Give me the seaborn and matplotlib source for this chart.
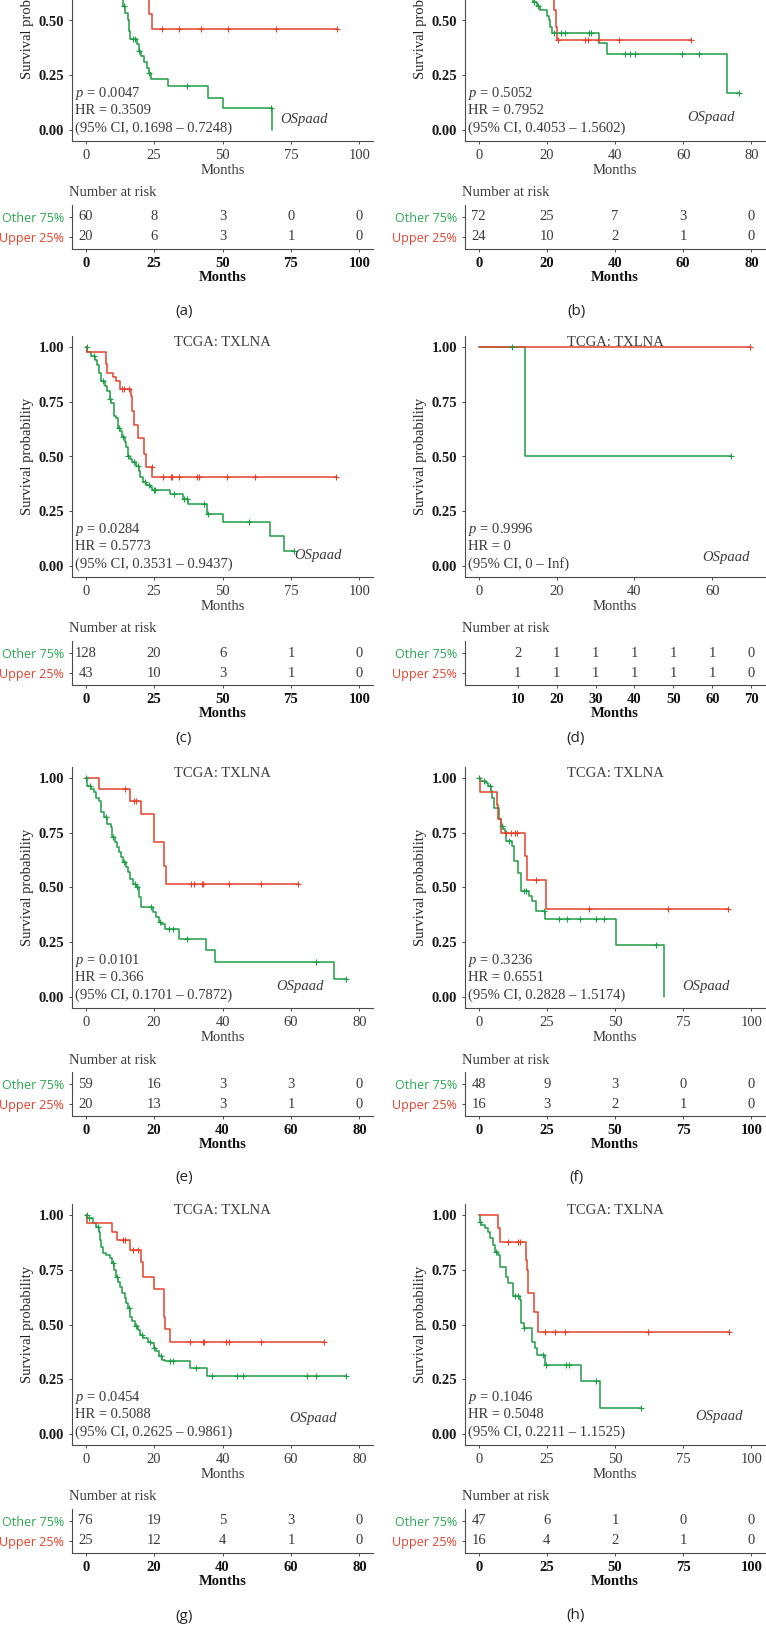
import numpy as np
import matplotlib
matplotlib.use("Agg")
import matplotlib.pyplot as plt
import seaborn as sns

# ---- panel (a) ----
A_OTHER_T = [0.5, 2, 3, 4, 5, 6, 7, 8, 9, 10, 11, 12, 13, 13.5, 14.3, 15.4, 15.8, 16.2,
             18.7, 19.5, 20.2, 21.3, 22.5, 23, 24, 30, 44.6, 50.2, 68]
A_OTHER_S = [0.983, 0.967, 0.95, 0.933, 0.917, 0.9, 0.867, 0.833, 0.8, 0.75, 0.7, 0.65, 0.6,
             0.567, 0.533, 0.5, 0.45, 0.417, 0.393, 0.36, 0.34, 0.31, 0.285, 0.26, 0.231,
             0.2, 0.147, 0.1, 0.0]
A_OTHER_CENS = [14, 17.2, 17.9, 19.5, 23.3, 37, 67.6]
A_UPPER_T = [5, 9, 13, 16, 19, 21, 22.3, 23.2, 24.4]
A_UPPER_S = [0.95, 0.9, 0.85, 0.8, 0.74, 0.66, 0.6, 0.53, 0.46]
A_UPPER_CENS = [28, 34, 42, 52, 69.5, 92]
A_RISK_OTHER = [60, 8, 3, 0, 0]
A_RISK_UPPER = [20, 6, 3, 1, 0]
A_STATS = ["0.0047", "0.3509", "0.1698 – 0.7248"]

# ---- panel (b) ----
B_OTHER_T = [1, 2, 3, 4, 5, 6, 7, 8, 9, 10, 11, 12, 13, 14, 15, 15.5, 16, 17, 18, 20,
             20.5, 21, 21.5, 35.3, 37.6, 72.8]
B_OTHER_S = [0.986, 0.972, 0.958, 0.944, 0.93, 0.9, 0.87, 0.85, 0.82, 0.79, 0.76, 0.73,
             0.7, 0.67, 0.64, 0.6, 0.585, 0.565, 0.55, 0.52, 0.5, 0.47, 0.445, 0.397,
             0.345, 0.17]
B_OTHER_CENS = [16.3, 17.3, 22, 24.3, 25.3, 32.3, 33, 42.8, 44.3, 46, 59.7, 64.6, 76.5]
B_UPPER_T = [3, 8, 12, 15, 17, 19, 20, 21.5, 22, 22.7, 23]
B_UPPER_S = [0.958, 0.917, 0.875, 0.833, 0.79, 0.74, 0.69, 0.64, 0.55, 0.47, 0.41]
B_UPPER_CENS = [23.3, 31.1, 32.1, 35, 41.1, 62.2]
B_RISK_OTHER = [72, 25, 7, 3, 0]
B_RISK_UPPER = [24, 10, 2, 1, 0]
B_STATS = ["0.5052", "0.7952", "0.4053 – 1.5602"]

# ---- panel (c) ----
C_OTHER_T = [0.5, 2.1, 3.3, 4.2, 4.8, 5.7, 7.0, 7.8, 8.8, 9.4, 10.3, 11.0, 11.8, 12.7, 13.4,
             14.3, 14.9, 15.3, 16.1, 17.1, 18.3, 19.4, 20.0, 21.0, 22.2, 23.4, 24.4, 30.8,
             35.4, 37.5, 44.4, 50.1, 67.4, 72.5]
C_OTHER_S = [0.977, 0.958, 0.942, 0.92, 0.882, 0.844, 0.821, 0.799, 0.761, 0.746, 0.685,
             0.678, 0.632, 0.617, 0.587, 0.564, 0.542, 0.504, 0.489, 0.474, 0.458, 0.436,
             0.405, 0.383, 0.368, 0.36, 0.345, 0.33, 0.307, 0.284, 0.239, 0.201, 0.136, 0.07]
C_OTHER_CENS = [0.3, 3, 6.2, 9, 12, 13.8, 15.6, 17.5, 19, 21.5, 23, 24.8, 25.5, 32.2, 35.8,
                37, 43.2, 44.8, 59.8, 76.2]
C_UPPER_T = [0.5, 7.3, 7.9, 10, 11.2, 12.5, 16.5, 17.1, 17.7, 19.2, 21.2, 22.2, 24.3]
C_UPPER_S = [0.977, 0.924, 0.882, 0.862, 0.844, 0.81, 0.776, 0.708, 0.644, 0.584, 0.511,
             0.45, 0.405]
C_UPPER_CENS = [13.1, 14, 15.9, 24.1, 28.1, 31, 31.7, 34.2, 40.8, 41.5, 51.5, 61.9, 91.6]
C_RISK_OTHER = [128, 20, 6, 1, 0]
C_RISK_UPPER = [43, 10, 3, 1, 0]
C_STATS = ["0.0284", "0.5773", "0.3531 – 0.9437"]

# ---- panel (d) ----
D_OTHER_T = [12]
D_OTHER_S = [0.5]
D_OTHER_CENS = [8.5, 64.7]
D_UPPER_T = []
D_UPPER_S = []
D_UPPER_CENS = [69.7]
D_RISK_OTHER = [2, 1, 1, 1, 1, 1, 0]
D_RISK_UPPER = [1, 1, 1, 1, 1, 1, 0]
D_STATS = ["0.9996", "0", "0 – Inf"]

# ---- panel (e) ----
E_OTHER_T = [0.4, 1.7, 2.3, 3.1, 3.9, 4.4, 5.3, 6.2, 7.3, 7.8, 8.5, 9.1, 9.7, 10.4, 10.9,
             11.7, 12.4, 13.0, 13.8, 14.8, 15.6, 16.3, 19.7, 20.6, 21.4, 22.1, 23.1, 27.4,
             35.2, 37.7, 72.7]
E_OTHER_S = [0.965, 0.95, 0.935, 0.909, 0.897, 0.843, 0.821, 0.79, 0.775, 0.73, 0.707,
             0.684, 0.661, 0.638, 0.616, 0.593, 0.57, 0.54, 0.517, 0.502, 0.456, 0.41,
             0.388, 0.365, 0.342, 0.334, 0.312, 0.266, 0.213, 0.16, 0.084]
E_OTHER_CENS = [0.2, 1.2, 5.8, 8.0, 11.2, 14.3, 15.0, 19.0, 21.8, 24.3, 25.5, 29.7, 67.2, 76.1]
E_UPPER_T = [3.9, 13.1, 16.3, 20.1, 22.9, 23.4]
E_UPPER_S = [0.95, 0.897, 0.836, 0.707, 0.6, 0.517]
E_UPPER_CENS = [11.4, 14.1, 14.8, 30.9, 31.6, 34, 34.2, 42, 51.3, 62]
E_RISK_OTHER = [59, 16, 3, 3, 0]
E_RISK_UPPER = [20, 13, 3, 1, 0]
E_STATS = ["0.0101", "0.366", "0.1701 – 0.7872"]

# ---- panel (f) ----
F_OTHER_T = [0.4, 2.6, 3.5, 4.4, 5.0, 5.6, 7.5, 8.1, 8.9, 9.7, 10.1, 12.1, 13.0, 14.5, 15.4,
             18.5, 19.7, 20.9, 24.3, 50.2, 68.0]
F_OTHER_S = [0.985, 0.977, 0.962, 0.939, 0.909, 0.864, 0.811, 0.78, 0.765, 0.75, 0.712,
             0.689, 0.621, 0.568, 0.485, 0.462, 0.439, 0.394, 0.356, 0.238, 0.0]
F_OTHER_CENS = [0.3, 2.0, 4.0, 8.6, 11.0, 16.5, 17.5, 24.0, 29.5, 32.5, 37.0, 42.9, 46.0, 65.0]
F_UPPER_T = [0.4, 6.8, 7.2, 8.3, 17.0, 17.6, 24.6]
F_UPPER_S = [0.9375, 0.875, 0.8125, 0.75, 0.643, 0.535, 0.40]
F_UPPER_CENS = [9.9, 11.7, 13.3, 14.2, 21.1, 40.5, 69.6, 91.6]
F_RISK_OTHER = [48, 9, 3, 0, 0]
F_RISK_UPPER = [16, 3, 2, 1, 0]
F_STATS = ["0.3236", "0.6551", "0.2828 – 1.5174"]

# ---- panel (g) ----
G_OTHER_T = [0.4, 2.1, 3.1, 3.8, 4.3, 4.6, 5.1, 6.0, 7.0, 7.8, 8.2, 9.0, 9.4, 9.9, 10.7,
             11.4, 11.9, 12.4, 13.0, 13.6, 14.3, 15.3, 16.0, 16.7, 18.2, 19.2, 19.9, 20.6,
             21.4, 22.4, 23.3, 30.4, 35.4]
G_OTHER_S = [0.985, 0.962, 0.947, 0.924, 0.886, 0.856, 0.825, 0.818, 0.802, 0.78, 0.749,
             0.719, 0.696, 0.673, 0.643, 0.62, 0.597, 0.574, 0.536, 0.514, 0.491, 0.476,
             0.453, 0.438, 0.422, 0.415, 0.392, 0.377, 0.354, 0.339, 0.334, 0.301, 0.263]
G_OTHER_CENS = [0.3, 1.0, 3.5, 8.0, 9.3, 12.8, 14.8, 16.4, 18.8, 20.0, 22.0, 24.7, 25.5,
                32.3, 36.9, 44.2, 46.1, 64.6, 67.2, 76.1]
G_UPPER_T = [0.4, 7.8, 9.2, 13.1, 16.3, 16.9, 20.1, 22.8, 23.3, 24.7]
G_UPPER_S = [0.962, 0.924, 0.886, 0.84, 0.787, 0.719, 0.661, 0.536, 0.479, 0.421]
G_UPPER_CENS = [10.9, 11.4, 13.8, 15.3, 30.6, 34.3, 34.5, 40.9, 42, 51.3, 69.8]
G_RISK_OTHER = [76, 19, 5, 3, 0]
G_RISK_UPPER = [25, 12, 4, 1, 0]
G_STATS = ["0.0454", "0.5088", "0.2625 – 0.9861"]

# ---- panel (h) ----
H_OTHER_T = [0.4, 1.0, 2.2, 3.4, 4.0, 5.3, 5.9, 7.1, 7.7, 10.1, 10.8, 12.6, 15.0, 15.6,
             16.5, 19.7, 20.5, 21.4, 24.2, 37.7, 44.4]
H_OTHER_S = [0.97, 0.954, 0.939, 0.924, 0.894, 0.863, 0.833, 0.818, 0.764, 0.719, 0.688,
             0.628, 0.612, 0.506, 0.483, 0.422, 0.392, 0.362, 0.316, 0.24, 0.119]
H_OTHER_CENS = [0.4, 6.5, 13.5, 14.3, 16.8, 23.6, 24.6, 32.2, 33.1, 42.9, 59.7]
H_UPPER_T = [7.1, 7.7, 17.2, 17.7, 18.1, 20.2, 21.8]
H_UPPER_S = [0.939, 0.878, 0.795, 0.749, 0.643, 0.559, 0.465]
H_UPPER_CENS = [10.8, 14.4, 15.0, 24.2, 27.9, 31.5, 62.1, 91.8]
H_RISK_OTHER = [47, 6, 1, 0, 0]
H_RISK_UPPER = [16, 4, 2, 1, 0]
H_STATS = ["0.1046", "0.5048", "0.2211 – 1.1525"]

TICKS_100 = [0, 25, 50, 75, 100]
TICKS_80 = [0, 20, 40, 60, 80]
D_KM_TICKS = [0, 20, 40, 60]
D_TABLE_TICKS = [10, 20, 30, 40, 50, 60, 70]
PANEL_LABELS = ["(a)", "(b)", "(c)", "(d)", "(e)", "(f)", "(g)", "(h)"]
STRATA = ["Other 75%", "Upper 25%"]
TITLE = "TCGA: TXLNA"

GREEN, RED = "#1f9e48", "#e4432d"
GREEN_LBL, RED_LBL = "#2aa852", "#e2412b"
TXT = "#3a3a3a"
SPINE = "#4a4a4a"
FS = 10.5

W, H = 766, 1638
ROW_Y0 = [130, 566, 997, 1434]          # pixel y of survival 0.00 per row
ROW_LABEL_Y = [312, 739, 1177, 1616]
COL_LEFT = [72, 465]
COL_W = [301, 300]
LABEL_X = [184, 576]
PX_UNIT = 219

panels = [
    dict(other=(A_OTHER_T, A_OTHER_S, A_OTHER_CENS), upper=(A_UPPER_T, A_UPPER_S, A_UPPER_CENS),
         risk=(A_RISK_OTHER, A_RISK_UPPER), stats=A_STATS, xmax=100,
         km_ticks=TICKS_100, tab_ticks=TICKS_100, osp=(0.85, 0.046)),
    dict(other=(B_OTHER_T, B_OTHER_S, B_OTHER_CENS), upper=(B_UPPER_T, B_UPPER_S, B_UPPER_CENS),
         risk=(B_RISK_OTHER, B_RISK_UPPER), stats=B_STATS, xmax=80,
         km_ticks=TICKS_80, tab_ticks=TICKS_80, osp=(0.90, 0.055)),
    dict(other=(C_OTHER_T, C_OTHER_S, C_OTHER_CENS), upper=(C_UPPER_T, C_UPPER_S, C_UPPER_CENS),
         risk=(C_RISK_OTHER, C_RISK_UPPER), stats=C_STATS, xmax=100,
         km_ticks=TICKS_100, tab_ticks=TICKS_100, osp=(0.895, 0.046)),
    dict(other=(D_OTHER_T, D_OTHER_S, D_OTHER_CENS), upper=(D_UPPER_T, D_UPPER_S, D_UPPER_CENS),
         risk=(D_RISK_OTHER, D_RISK_UPPER), stats=D_STATS, xmax=70,
         km_ticks=D_KM_TICKS, tab_ticks=D_TABLE_TICKS, osp=(0.95, 0.041)),
    dict(other=(E_OTHER_T, E_OTHER_S, E_OTHER_CENS), upper=(E_UPPER_T, E_UPPER_S, E_UPPER_CENS),
         risk=(E_RISK_OTHER, E_RISK_UPPER), stats=E_STATS, xmax=80,
         km_ticks=TICKS_80, tab_ticks=TICKS_80, osp=(0.835, 0.05)),
    dict(other=(F_OTHER_T, F_OTHER_S, F_OTHER_CENS), upper=(F_UPPER_T, F_UPPER_S, F_UPPER_CENS),
         risk=(F_RISK_OTHER, F_RISK_UPPER), stats=F_STATS, xmax=100,
         km_ticks=TICKS_100, tab_ticks=TICKS_100, osp=(0.883, 0.047)),
    dict(other=(G_OTHER_T, G_OTHER_S, G_OTHER_CENS), upper=(G_UPPER_T, G_UPPER_S, G_UPPER_CENS),
         risk=(G_RISK_OTHER, G_RISK_UPPER), stats=G_STATS, xmax=80,
         km_ticks=TICKS_80, tab_ticks=TICKS_80, osp=(0.88, 0.073)),
    dict(other=(H_OTHER_T, H_OTHER_S, H_OTHER_CENS), upper=(H_UPPER_T, H_UPPER_S, H_UPPER_CENS),
         risk=(H_RISK_OTHER, H_RISK_UPPER), stats=H_STATS, xmax=100,
         km_ticks=TICKS_100, tab_ticks=TICKS_100, osp=(0.927, 0.078)),
]

sns.set_theme(style="ticks")
SERIF = ["Liberation Serif", "DejaVu Serif"]
SANS = ["Open Sans", "DejaVu Sans"]
plt.rcParams["font.family"] = SERIF
plt.rcParams["mathtext.fontset"] = "custom"
plt.rcParams["mathtext.it"] = "Liberation Serif:italic"
plt.rcParams["mathtext.rm"] = "Liberation Serif"


def px_axes(fig, left, top, width, height):
    return fig.add_axes([left / W, 1 - (top + height) / H, width / W, height / H])


def style_axis(ax):
    sns.despine(ax=ax)
    for side in ("left", "bottom"):
        ax.spines[side].set_color(SPINE)
        ax.spines[side].set_linewidth(0.8)
    ax.tick_params(length=2.5, width=0.7, color=SPINE, pad=3.2, labelsize=FS)


def draw_curve(ax, curve, color):
    t, s, cens = curve
    xs = [0.0] + list(t)
    ys = [1.0] + list(s)
    end = max([xs[-1]] + list(cens))
    sns.lineplot(x=xs + [end], y=ys + [ys[-1]], drawstyle="steps-post", estimator=None,
                 sort=False, color=color, lw=1.1, ax=ax)
    # censored subjects sit on the step they were censored at
    idx = np.searchsorted(xs, cens, side="right") - 1
    sns.scatterplot(x=cens, y=np.array(ys)[idx], marker="+", s=24, color=color,
                    linewidth=0.8, ax=ax, zorder=3)


fig = plt.figure(figsize=(W / 100, H / 100), dpi=100)

for i, p in enumerate(panels):
    row, col = divmod(i, 2)
    y0 = ROW_Y0[row]
    left, cw = COL_LEFT[col], COL_W[col]
    xlim = (-0.05 * p["xmax"], 1.05 * p["xmax"])
    km_h = 1.1 * PX_UNIT

    # survival curves
    km = px_axes(fig, left, y0 - 1.05 * PX_UNIT, cw, km_h)
    draw_curve(km, p["other"], GREEN)
    draw_curve(km, p["upper"], RED)
    km.set_xlim(*xlim)
    km.set_ylim(-0.05, 1.05)
    km.set_xticks(p["km_ticks"])
    yt = [0, 0.25, 0.5, 0.75, 1.0]
    km.set_yticks(yt)
    km.set_yticklabels([f"{v:.2f}" for v in yt], color="#1a1a1a", fontweight="bold")
    style_axis(km)
    for lab in km.get_xticklabels():
        lab.set_color(TXT)
    km.set_xlabel("Months", fontsize=FS, color=TXT)
    km.xaxis.set_label_coords(0.5, -23 / km_h)
    km.set_ylabel("Survival probability", fontsize=FS, color="#222222")
    km.yaxis.set_label_coords(-38 / cw, 0.5)
    km.text(0.5, (1.02 + 0.05) / 1.1, TITLE, transform=km.transAxes,
            fontsize=FS, color=TXT, ha="center", va="center")
    trans = km.get_yaxis_transform()
    pv, hr, ci = p["stats"]
    km.text(0.01, 0.168, r"$p$ = " + pv, transform=trans, fontsize=FS, color=TXT, va="center")
    km.text(0.01, 0.088, "HR = " + hr, transform=trans, fontsize=FS, color=TXT, va="center")
    km.text(0.01, 0.008, "(95% CI, " + ci + ")", transform=trans, fontsize=FS, color=TXT,
            va="center")
    ox, oy = p["osp"]
    km.text(ox, oy, "OSpaad", transform=trans, fontsize=FS, color=TXT, style="italic",
            ha="right", va="center")

    # number at risk table
    fig.text((left - 3) / W, 1 - (y0 + 63) / H, "Number at risk", fontsize=FS, color=TXT,
             ha="left", va="center")
    tab = px_axes(fig, left, y0 + 75, cw, 44)
    other_n, upper_n = p["risk"]
    for t, a, b in zip(p["tab_ticks"], other_n, upper_n):
        tab.text(t, 1, str(a), ha="center", va="center", fontsize=FS, color=TXT)
        tab.text(t, 0, str(b), ha="center", va="center", fontsize=FS, color=TXT)
    tab.set_xlim(*xlim)
    tab.set_ylim(-0.6, 1.6)
    tab.set_xticks(p["tab_ticks"])
    tab.set_yticks([1, 0])
    tab.set_yticklabels(STRATA, family=SANS, fontsize=9)
    for lab, c in zip(tab.get_yticklabels(), (GREEN_LBL, RED_LBL)):
        lab.set_color(c)
    style_axis(tab)
    tab.tick_params(axis="y", labelsize=9, pad=3)
    for lab in tab.get_xticklabels():
        lab.set_color("#111111")
        lab.set_fontweight("bold")
    tab.set_xlabel("Months", fontsize=FS, color="#111111", fontweight="bold")
    tab.xaxis.set_label_coords(0.5, -22 / 44)

    fig.text(LABEL_X[col] / W, 1 - ROW_LABEL_Y[row] / H, PANEL_LABELS[i], family=SANS,
             fontsize=11, color="#222222", ha="center", va="center")

fig.savefig("out.png", dpi=100, facecolor="white")
